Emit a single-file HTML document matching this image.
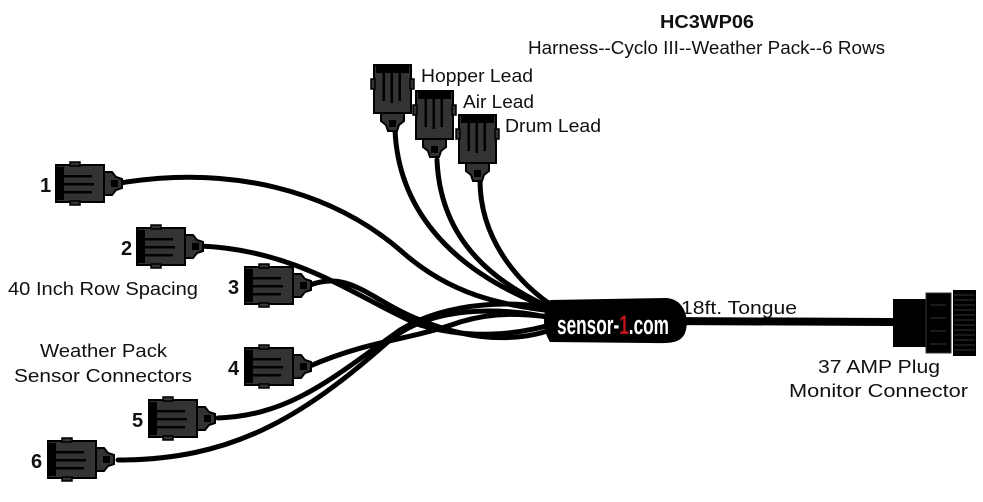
<!DOCTYPE html>
<html><head><meta charset="utf-8"><style>
html,body{margin:0;padding:0;background:#fff;}
svg{display:block;}
text{font-family:"Liberation Sans",sans-serif;fill:#111;}
</style></head><body>
<svg width="983" height="502" viewBox="0 0 983 502" xmlns="http://www.w3.org/2000/svg">
<defs>
<g id="con">
  <rect x="0" y="0" width="48" height="37" fill="#333" stroke="#000" stroke-width="2"/>
  <rect x="14" y="-3" width="10" height="4" fill="#333" stroke="#000" stroke-width="1.5"/>
  <rect x="14" y="36" width="10" height="4" fill="#333" stroke="#000" stroke-width="1.5"/>
  <rect x="1" y="2" width="7" height="33" fill="#000"/>
  <rect x="8" y="10" width="28" height="2.5" fill="#000"/>
  <rect x="8" y="18" width="30" height="2.5" fill="#000"/>
  <rect x="8" y="26" width="28" height="2.5" fill="#000"/>
  <path d="M48 7 L56 7 L60 12 L66 14 L66 23 L60 25 L56 30 L48 30 Z" fill="#333" stroke="#000" stroke-width="2"/>
  <rect x="55" y="15" width="7" height="7" fill="#000"/>
</g>
</defs>

<g fill="none" stroke="#000" stroke-width="5" stroke-linecap="round">
  <path d="M395 130 C398 200 440 270 560 312"/>
  <path d="M437 160 C440 230 480 280 565 314"/>
  <path d="M480 180 C480 240 520 290 570 316"/>
  <path d="M120 183 C230 165 330 190 400 250 C450 295 500 305 560 312"/>
  <path d="M200 246 C300 250 360 300 420 325 C470 340 520 335 560 322"/>
  <path d="M310 285 C350 270 370 300 420 320 C480 345 530 340 560 326"/>
  <path d="M310 366 C370 340 410 340 460 322 C500 310 530 315 560 318"/>
  <path d="M218 418 C290 415 330 380 400 330 C450 300 520 300 560 310"/>
  <path d="M118 460 C230 460 300 420 390 340 C440 300 520 310 560 320"/>
  <path d="M660 321 L895 322" stroke-width="8"/>
</g>

<path d="M550 300 L665 298 C685 298 690 320 685 333 C680 345 665 343 650 343 L550 342 C542 330 542 310 550 300 Z" fill="#000"/>
<text x="557" y="334" font-size="27" font-weight="bold" textLength="112" lengthAdjust="spacingAndGlyphs" style="fill:#fff">sensor-<tspan style="fill:#c0141c">1</tspan>.com</text>

<rect x="893" y="299" width="34" height="48" fill="#000"/>
<rect x="926" y="293" width="25" height="60" fill="#000" stroke="#333" stroke-width="1"/>
<g stroke="#333" stroke-width="1"><path d="M930 305 h16 M930 318 h16 M930 331 h16 M930 344 h16"/></g>
<rect x="953" y="290" width="23" height="66" fill="#000"/>
<g stroke="#444" stroke-width="0.8">
<path d="M954 295h21M954 300h21M954 305h21M954 310h21M954 315h21M954 320h21M954 325h21M954 330h21M954 335h21M954 340h21M954 345h21M954 350h21"/>
</g>

<use href="#con" x="56" y="165"/>
<use href="#con" x="137" y="228"/>
<use href="#con" x="245" y="267"/>
<use href="#con" x="245" y="348"/>
<use href="#con" x="149" y="400"/>
<use href="#con" x="48" y="441"/>
<use href="#con" transform="translate(411 65) rotate(90)"/>
<use href="#con" transform="translate(453 91) rotate(90)"/>
<use href="#con" transform="translate(496 115) rotate(90)"/>

<g font-size="18" lengthAdjust="spacingAndGlyphs">
<text x="660" y="28" font-weight="bold" textLength="94" lengthAdjust="spacingAndGlyphs">HC3WP06</text>
<text x="528" y="54" textLength="357" lengthAdjust="spacingAndGlyphs">Harness--Cyclo III--Weather Pack--6 Rows</text>
<text x="421" y="82" textLength="112" lengthAdjust="spacingAndGlyphs">Hopper Lead</text>
<text x="463" y="108" textLength="71" lengthAdjust="spacingAndGlyphs">Air Lead</text>
<text x="505" y="132" textLength="96" lengthAdjust="spacingAndGlyphs">Drum Lead</text>
<text x="8" y="295" textLength="190" lengthAdjust="spacingAndGlyphs">40 Inch Row Spacing</text>
<text x="40" y="357" textLength="127" lengthAdjust="spacingAndGlyphs">Weather Pack</text>
<text x="14" y="382" textLength="178" lengthAdjust="spacingAndGlyphs">Sensor Connectors</text>
<text x="681" y="314" textLength="116" lengthAdjust="spacingAndGlyphs">18ft. Tongue</text>
<text x="818" y="373" textLength="122" lengthAdjust="spacingAndGlyphs">37 AMP Plug</text>
<text x="789" y="397" textLength="179" lengthAdjust="spacingAndGlyphs">Monitor Connector</text>
</g>
<g font-size="20" font-weight="bold">
<text x="40" y="192">1</text>
<text x="121" y="255">2</text>
<text x="228" y="294">3</text>
<text x="228" y="375">4</text>
<text x="132" y="427">5</text>
<text x="31" y="468">6</text>
</g>
</svg>
</body></html>
